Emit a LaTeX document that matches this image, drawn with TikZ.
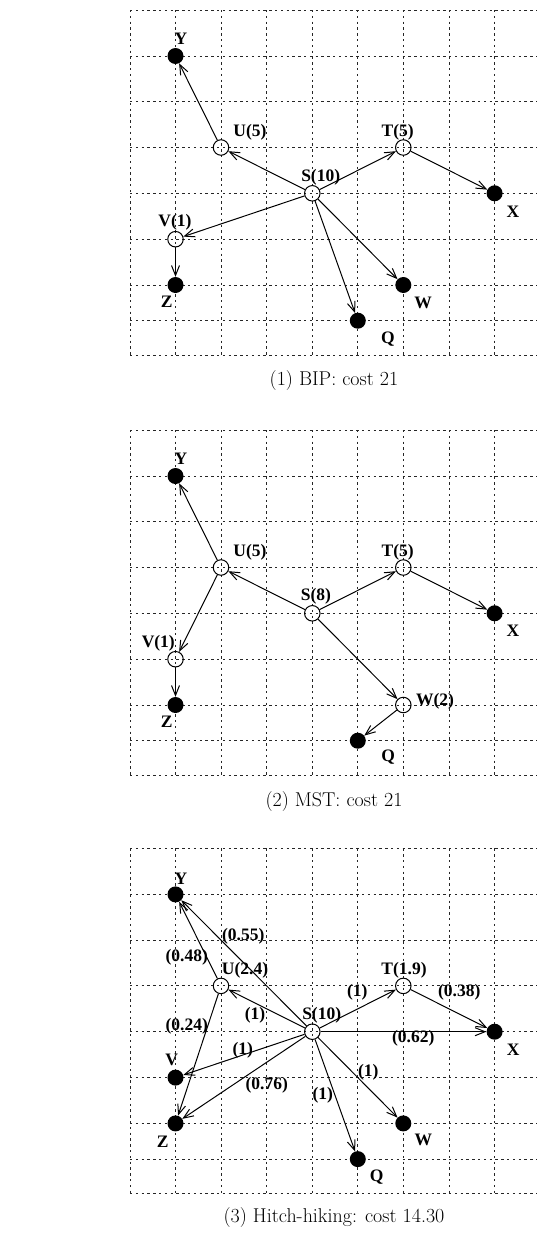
\documentclass[tikz,border=0pt]{standalone}
\usepackage{fontspec}
\newfontfamily\labfont{Liberation Serif}
\usetikzlibrary{arrows.meta}
\tikzset{
 gridline/.style={black!85, line width=0.9pt, dash pattern=on 2.4pt off 3.4pt},
 relay/.style={circle, draw, line width=1pt, minimum size=15.5pt, inner sep=0pt},
 sinknode/.style={circle, fill=black, minimum size=16pt, inner sep=0pt},
 lab/.style={font=\labfont\bfseries\fontsize{17.5}{17.5}\selectfont, inner sep=0pt},
 conn/.style={line width=1pt, -{Straight Barb[length=10pt,width=8pt,line width=1pt]}},
 captext/.style={font=\fontsize{20}{22}\selectfont, inner sep=0pt}
}
\newcommand\mygrid[1]{%
 \foreach \x in {130,175.5,221,266.7,312.3,357.8,403.3,449,494.6,540.2}
   \draw[gridline] (\x,10+#1) -- (\x,355+#1);
 \foreach \y in {10,56,101.6,147.5,193.3,239.2,285,320.7,355}
   \draw[gridline] (130,\y+#1) -- (545,\y+#1);
}
\begin{document}
\begin{tikzpicture}[x=1pt,y=-1pt]
\useasboundingbox (0,0) rectangle (536,1234);
% ---------- panel 1 ----------
\mygrid{0}
\node[relay] (S1) at (312.3,193.3) {};
\node[relay] (U1) at (221,147.5) {};
\node[relay] (T1) at (403.3,147.5) {};
\node[relay] (V1) at (175.5,239.2) {};
\node[sinknode] (Y1) at (175.5,56) {};
\node[sinknode] (X1) at (494.6,193.3) {};
\node[sinknode] (Z1) at (175.5,285) {};
\node[sinknode] (W1) at (403.3,285) {};
\node[sinknode] (Q1) at (357.8,320.7) {};
\node[lab] (lY1) at (181,39) {Y};
\node[lab] (lU1) at (250,132) {U(5)};
\node[lab] (lT1) at (397.7,132) {T(5)};
\node[lab] (lS1) at (320.7,177.7) {S(10)};
\node[lab] (lX1) at (513,212) {X};
\node[lab] (lV1) at (175,222.7) {V(1)};
\node[lab] (lZ1) at (166.7,301.7) {Z};
\node[lab] (lW1) at (423,303) {W};
\node[lab] (lQ1) at (388,339) {Q};
\draw[conn] (S1) -- (U1);
\draw[conn] (U1) -- (Y1);
\draw[conn] (S1) -- (T1);
\draw[conn] (T1) -- (X1);
\draw[conn] (S1) -- (V1);
\draw[conn] (V1) -- (Z1);
\draw[conn] (S1) -- (W1);
\draw[conn] (S1) -- (Q1);
\node[captext] (c1) at (334,381) {(1) BIP: cost 21};
% ---------- panel 2 ----------
\mygrid{420}
\node[relay] (S2) at (312.3,613.3) {};
\node[relay] (U2) at (221,567.5) {};
\node[relay] (T2) at (403.3,567.5) {};
\node[relay] (V2) at (175.5,659.2) {};
\node[relay] (W2) at (403.3,705) {};
\node[sinknode] (Y2) at (175.5,476) {};
\node[sinknode] (X2) at (494.6,613.3) {};
\node[sinknode] (Z2) at (175.5,705) {};
\node[sinknode] (Q2) at (357.8,740.7) {};
\node[lab] (lY2) at (181,459) {Y};
\node[lab] (lU2) at (250,552) {U(5)};
\node[lab] (lT2) at (397.7,552) {T(5)};
\node[lab] (lS2) at (316,596.7) {S(8)};
\node[lab] (lX2) at (513,631) {X};
\node[lab] (lV2) at (158.3,643.3) {V(1)};
\node[lab] (lZ2) at (166.7,721.5) {Z};
\node[lab] (lW2) at (435,701.7) {W(2)};
\node[lab] (lQ2) at (388.3,757.3) {Q};
\draw[conn] (S2) -- (U2);
\draw[conn] (U2) -- (Y2);
\draw[conn] (U2) -- (V2);
\draw[conn] (V2) -- (Z2);
\draw[conn] (S2) -- (T2);
\draw[conn] (T2) -- (X2);
\draw[conn] (S2) -- (W2);
\draw[conn] (W2) -- (Q2);
\node[captext] (c2) at (334,801) {(2) MST: cost 21};
% ---------- panel 3 ----------
\mygrid{838.4}
\node[relay] (S3) at (312.3,1031.7) {};
\node[relay] (U3) at (221,985.9) {};
\node[relay] (T3) at (403.3,985.9) {};
\node[sinknode] (Y3) at (175.5,894.4) {};
\node[sinknode] (X3) at (494.6,1031.7) {};
\node[sinknode] (V3) at (175.5,1077.6) {};
\node[sinknode] (Z3) at (175.5,1123.4) {};
\node[sinknode] (W3) at (403.3,1123.4) {};
\node[sinknode] (Q3) at (357.8,1159.1) {};
\node[lab] (lY3) at (181,878.3) {Y};
\node[lab] (lU3) at (245,970) {U(2.4)};
\node[lab] (lT3) at (404,970) {T(1.9)};
\node[lab] (lS3) at (321.7,1015) {S(10)};
\node[lab] (lX3) at (513.3,1049.3) {X};
\node[lab] (lV3) at (171.7,1060) {V};
\node[lab] (lZ3) at (162.7,1141.7) {Z};
\node[lab] (lW3) at (423.3,1140) {W};
\node[lab] (lQ3) at (376.7,1176.7) {Q};
\draw[conn] (S3) -- (Y3);
\draw[conn] (U3) -- (Y3);
\draw[conn] (U3) -- (Z3);
\draw[conn] (S3) -- (U3);
\draw[conn] (S3) -- (T3);
\draw[conn] (T3) -- (X3);
\draw[conn] (S3) -- (X3);
\draw[conn] (S3) -- (V3);
\draw[conn] (S3) -- (Z3);
\draw[conn] (S3) -- (Q3);
\draw[conn] (S3) -- (W3);
\node[lab] (e1) at (243.3,936) {(0.55)};
\node[lab] (e2) at (186.7,957.7) {(0.48)};
\node[lab] (e3) at (186.7,1026.7) {(0.24)};
\node[lab] (e4) at (255,1015) {(1)};
\node[lab] (e5) at (357.3,992.3) {(1)};
\node[lab] (e6) at (459.3,992.3) {(0.38)};
\node[lab] (e7) at (413.3,1038.3) {(0.62)};
\node[lab] (e8) at (242.7,1050) {(1)};
\node[lab] (e9) at (266.7,1085) {(0.76)};
\node[lab] (e10) at (322.7,1095) {(1)};
\node[lab] (e11) at (368.3,1072.3) {(1)};
\node[captext] (c3) at (334,1217) {(3) Hitch-hiking: cost 14.30};
\end{tikzpicture}
\end{document}
